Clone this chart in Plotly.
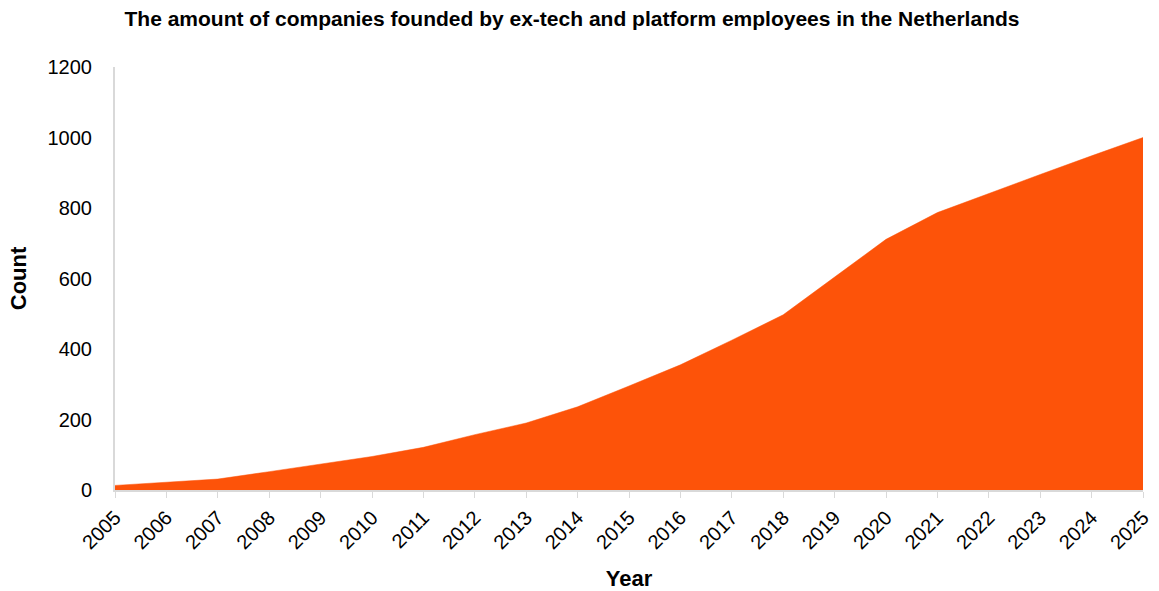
import plotly.graph_objects as go

years = list(range(2005, 2026))
counts = [13, 22, 31, 52, 73, 95, 121, 157, 190, 236, 295, 355, 425, 497,
          604, 711, 787, 842, 895, 948, 1000]
y_ticks = [0, 200, 400, 600, 800, 1000, 1200]

FONT = "Liberation Sans, Arial, Helvetica, sans-serif"
ORANGE = "#fd5309"
AXIS_GREY = "#d9d9d9"

fig = go.Figure(
    go.Scatter(
        x=years,
        y=counts,
        mode="lines",
        fill="tozeroy",
        fillcolor=ORANGE,
        line=dict(color=ORANGE, width=0.5),
        hoverinfo="x+y",
    )
)

fig.update_layout(
    width=1159,
    height=591,
    margin=dict(l=115, r=16, t=67, b=101),
    paper_bgcolor="white",
    plot_bgcolor="white",
    showlegend=False,
    font=dict(family=FONT, color="#000000", size=20),
    title=dict(
        text="<b>The amount of companies founded by ex-tech and platform employees in the Netherlands</b>",
        font=dict(family=FONT, size=21, color="#000000"),
        x=572 / 1159,
        xanchor="center",
        xref="container",
        y=1 - 19 / 591,
        yanchor="middle",
        yref="container",
    ),
)

fig.update_xaxes(
    range=[2005, 2025],
    automargin=False,
    tickmode="array",
    tickvals=years,
    ticktext=[str(y) for y in years],
    tickangle=-45,
    tickfont=dict(size=20, family=FONT),
    ticks="outside",
    ticklen=6,
    tickcolor=AXIS_GREY,
    showline=True,
    linecolor=AXIS_GREY,
    linewidth=2,
    showgrid=False,
    zeroline=False,
    title=dict(text="<b>Year</b>", font=dict(size=22, family=FONT), standoff=18),
)

fig.update_yaxes(
    range=[0, 1200],
    automargin=False,
    tickmode="array",
    tickvals=y_ticks,
    ticks="",
    tickfont=dict(size=20, family=FONT),
    showline=True,
    linecolor=AXIS_GREY,
    linewidth=2,
    showgrid=False,
    zeroline=False,
    ticklabelstandoff=17,
    title=dict(text="<b>Count</b>", font=dict(size=22, family=FONT), standoff=15),
)

fig.write_html("out.html")
